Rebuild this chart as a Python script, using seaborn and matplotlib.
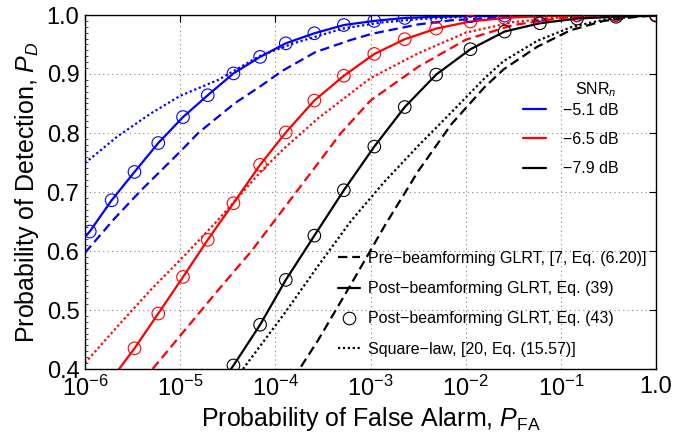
import numpy as np
import pandas as pd
import matplotlib
matplotlib.use("Agg")
import matplotlib.pyplot as plt
import seaborn as sns
from matplotlib.lines import Line2D
from matplotlib.ticker import FixedLocator, FixedFormatter, MultipleLocator, NullLocator

# ---------------- data (log10 of PFA, PD) ----------------
snr_title = "SNR$_{\\mathit{n}}$"
snr_labels = ["\u22125.1 dB", "\u22126.5 dB", "\u22127.9 dB"]
snr_colors = ["#0000ff", "#ff0000", "#000000"]

circle_log_pfa = [-5.95, -5.72, -5.48, -5.23, -4.97, -4.71, -4.44, -4.16, -3.89, -3.59,
                  -3.28, -2.96, -2.64, -2.31, -1.95, -1.59, -1.22, -0.83, -0.42, 0.0]
circle_pd_blue = [0.633, 0.686, 0.734, 0.783, 0.827, 0.864, 0.901, 0.929, 0.952, 0.969,
                  0.983, 0.990, 0.995, 0.997, 0.998, 0.999, 1.0, 1.0, 1.0, 1.0]
circle_pd_red = [np.nan, np.nan, 0.435, 0.494, 0.556, 0.619, 0.681, 0.746, 0.801, 0.855,
                 0.897, 0.934, 0.959, 0.977, 0.989, 0.995, 0.998, 0.999, 1.0, 1.0]
circle_pd_black = [np.nan, np.nan, np.nan, np.nan, np.nan, np.nan, 0.406, 0.475, 0.551, 0.626,
                   0.703, 0.777, 0.844, 0.899, 0.942, 0.972, 0.986, 0.994, 0.997, 0.999]

solid_log_pfa_blue = [-6.0] + circle_log_pfa
solid_pd_blue = [0.624] + circle_pd_blue
solid_log_pfa_red = [-5.72] + circle_log_pfa[2:]
solid_pd_red = [0.383] + circle_pd_red[2:]
solid_log_pfa_black = [-4.71] + circle_log_pfa[6:]
solid_pd_black = [0.345] + circle_pd_black[6:]

dashed_log_pfa_blue = [-6.0, -5.69, -5.41, -4.99, -4.81, -4.43, -4.15, -3.93, -3.58, -3.22,
                       -2.99, -2.5, -2.15, -1.5, -1.0, 0.0]
dashed_pd_blue = [0.597, 0.655, 0.703, 0.770, 0.800, 0.850, 0.880, 0.905, 0.937, 0.957,
                  0.968, 0.984, 0.991, 0.997, 0.999, 1.0]
dotted_log_pfa_blue = [-6.0, -5.66, -5.31, -5.0, -4.6, -4.45, -4.17, -3.81, -3.29, -2.9,
                       -2.5, -2.0, -1.0, 0.0]
dotted_pd_blue = [0.749, 0.794, 0.833, 0.863, 0.890, 0.904, 0.930, 0.952, 0.977, 0.987,
                  0.993, 0.997, 1.0, 1.0]

dashed_log_pfa_red = [-5.29, -4.95, -4.6, -4.25, -3.78, -3.31, -3.0, -2.5, -2.0, -1.5,
                      -1.0, -0.5, 0.0]
dashed_pd_red = [0.40, 0.466, 0.534, 0.600, 0.700, 0.800, 0.855, 0.912, 0.958, 0.983,
                 0.995, 0.999, 1.0]
dotted_log_pfa_red = [-6.0, -5.66, -5.31, -4.95, -4.6, -4.15, -3.9, -3.55, -3.0, -2.5,
                      -2.0, -1.5, -1.0, -0.5, 0.0]
dotted_pd_red = [0.410, 0.472, 0.534, 0.593, 0.653, 0.735, 0.775, 0.825, 0.893, 0.935,
                 0.970, 0.988, 0.996, 0.999, 1.0]

dashed_log_pfa_black = [-3.73, -3.55, -3.2, -2.85, -2.5, -2.15, -1.8, -1.6, -1.25, -0.9,
                        -0.55, -0.2, 0.0]
dashed_pd_black = [0.404, 0.449, 0.545, 0.643, 0.735, 0.815, 0.878, 0.908, 0.946, 0.974,
                   0.990, 0.997, 0.999]
dotted_log_pfa_black = [-4.34, -3.9, -3.55, -3.2, -2.85, -2.5, -2.15, -1.8, -1.6, -1.25,
                        -0.9, -0.55, -0.2, 0.0]
dotted_pd_black = [0.40, 0.495, 0.575, 0.652, 0.718, 0.778, 0.835, 0.893, 0.922, 0.956,
                   0.979, 0.992, 0.998, 0.999]

x_tick_exps = [-6, -5, -4, -3, -2, -1, 0]
x_tick_labels = [r"$10^{-6}$", r"$10^{-5}$", r"$10^{-4}$", r"$10^{-3}$", r"$10^{-2}$",
                 r"$10^{-1}$", "1.0"]
y_ticks = [0.4, 0.5, 0.6, 0.7, 0.8, 0.9, 1.0]
y_tick_labels = ["0.4", "0.5", "0.6", "0.7", "0.8", "0.9", "1.0"]

method_labels = ["Pre\u2212beamforming GLRT, [7, Eq. (6.20)]",
                 "Post\u2212beamforming GLRT, Eq. (39)",
                 "Post\u2212beamforming GLRT, Eq. (43)",
                 "Square\u2212law, [20, Eq. (15.57)]"]

# ---------------- style ----------------
sns.set_theme(style="white")
plt.rcParams["font.family"] = ["Liberation Sans", "DejaVu Sans"]
plt.rcParams["mathtext.fontset"] = "custom"
plt.rcParams["mathtext.rm"] = "Liberation Sans"
plt.rcParams["mathtext.it"] = "Liberation Sans:italic"
plt.rcParams["mathtext.default"] = "regular"
for key in ["text.color", "axes.labelcolor", "xtick.color", "ytick.color"]:
    plt.rcParams[key] = "black"

fig = plt.figure(figsize=(6.99, 4.36), dpi=100)
ax = fig.add_axes([85 / 699, 1 - 369 / 436, (656 - 85) / 699, (369 - 15) / 436])

LW = 1.6
dash_style = (0, (4.2, 2.2))
dot_style = (0, (1.0, 1.2))

series = [
    (solid_log_pfa_blue, solid_pd_blue, dashed_log_pfa_blue, dashed_pd_blue,
     dotted_log_pfa_blue, dotted_pd_blue, circle_pd_blue),
    (solid_log_pfa_red, solid_pd_red, dashed_log_pfa_red, dashed_pd_red,
     dotted_log_pfa_red, dotted_pd_red, circle_pd_red),
    (solid_log_pfa_black, solid_pd_black, dashed_log_pfa_black, dashed_pd_black,
     dotted_log_pfa_black, dotted_pd_black, circle_pd_black),
]

for (sx, sy, dx, dy, ox, oy, cy), col in zip(series, snr_colors):
    df_s = pd.DataFrame({"pfa": 10.0 ** np.array(sx), "pd": sy})
    df_d = pd.DataFrame({"pfa": 10.0 ** np.array(dx), "pd": dy})
    df_o = pd.DataFrame({"pfa": 10.0 ** np.array(ox), "pd": oy})
    df_c = pd.DataFrame({"pfa": 10.0 ** np.array(circle_log_pfa), "pd": cy}).dropna()
    sns.lineplot(data=df_d, x="pfa", y="pd", ax=ax, color=col, linewidth=LW,
                 linestyle=dash_style, estimator=None, sort=True)
    sns.lineplot(data=df_o, x="pfa", y="pd", ax=ax, color=col, linewidth=LW,
                 linestyle=dot_style, estimator=None, sort=True)
    sns.lineplot(data=df_s, x="pfa", y="pd", ax=ax, color=col, linewidth=LW,
                 estimator=None, sort=True)
    sns.scatterplot(data=df_c, x="pfa", y="pd", ax=ax, marker="o", s=82,
                    facecolor="none", edgecolor=col, linewidth=0.8, zorder=5)

ax.set_xscale("log")
ax.set_xlim(1e-6, 1.0)
ax.set_ylim(0.4, 1.0)
ax.xaxis.set_major_locator(FixedLocator([10.0 ** e for e in x_tick_exps]))
ax.xaxis.set_major_formatter(FixedFormatter(x_tick_labels))
ax.xaxis.set_minor_locator(NullLocator())
ax.yaxis.set_major_locator(FixedLocator(y_ticks))
ax.yaxis.set_major_formatter(FixedFormatter(y_tick_labels))
ax.yaxis.set_minor_locator(MultipleLocator(0.01))

ax.grid(True, which="major", color="#808080", linestyle=(0, (1, 3)), linewidth=0.8)
ax.tick_params(axis="both", which="major", direction="in", length=5, width=0.8,
               labelsize=17, colors="black", top=True, right=True)
ax.tick_params(axis="x", which="major", pad=5)
ax.tick_params(axis="y", which="major", pad=4)
ax.tick_params(axis="y", which="minor", direction="in", length=2, width=0.5,
               left=True, right=False)
for sp in ax.spines.values():
    sp.set_color("black")
    sp.set_linewidth(1.0)

ax.set_xlabel(r"Probability of False Alarm, $\mathit{P}_{\mathrm{FA}}$", fontsize=18, labelpad=3)
ax.set_ylabel(r"Probability of Detection, $\mathit{P}_{\mathit{D}}$", fontsize=18, labelpad=4)

# legend 1: SNR colors (title drawn as text, right-aligned over the labels)
h1 = [Line2D([], [], color=c, linewidth=LW) for c in snr_colors]
leg1 = ax.legend(h1, snr_labels, loc="upper left",
                 bbox_to_anchor=(523 / 699, 1 - 103 / 436), bbox_transform=fig.transFigure,
                 frameon=False, fontsize=11.5, handlelength=1.44,
                 handletextpad=1.06, labelspacing=0.88, borderaxespad=0, borderpad=0)
ax.add_artist(leg1)
fig.text(617 / 699, 1 - 90 / 436, snr_title, ha="right", va="center", fontsize=11.5,
         color="black")

# legend 2: methods
h2 = [Line2D([], [], color="black", linewidth=LW, linestyle=dash_style),
      Line2D([], [], color="black", linewidth=LW),
      Line2D([], [], color="black", linestyle="none", marker="o", markersize=9,
             markerfacecolor="none", markeredgewidth=0.8),
      Line2D([], [], color="black", linewidth=LW, linestyle=dot_style)]
leg2 = ax.legend(h2, method_labels, loc="upper left",
                 bbox_to_anchor=(338 / 699, 1 - 251 / 436), bbox_transform=fig.transFigure,
                 frameon=False, fontsize=11.5, handlelength=1.375, handletextpad=0.5,
                 labelspacing=0.95, borderaxespad=0, borderpad=0)

fig.savefig("out.png", dpi=100)
